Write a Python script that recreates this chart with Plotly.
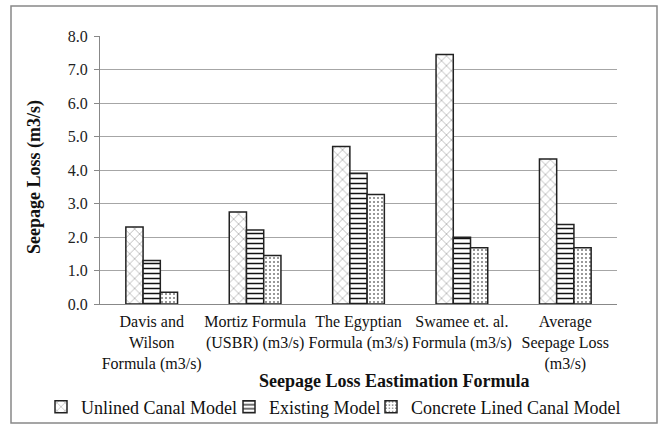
import plotly.graph_objects as go

categories = [
    "Davis and<br>Wilson<br>Formula (m3/s)",
    "Mortiz Formula<br>(USBR) (m3/s)",
    "The Egyptian<br>Formula (m3/s)",
    "Swamee et. al.<br>Formula (m3/s)",
    "Average<br>Seepage Loss<br>(m3/s)",
]
unlined = [2.3, 2.75, 4.7, 7.45, 4.33]
existing = [1.3, 2.21, 3.9, 1.99, 2.37]
concrete = [0.35, 1.45, 3.27, 1.68, 1.68]
series_names = ["Unlined Canal Model", "Existing Model", "Concrete Lined Canal Model"]
y_ticks = [0, 1, 2, 3, 4, 5, 6, 7, 8]
y_tick_text = ["0.0", "1.0", "2.0", "3.0", "4.0", "5.0", "6.0", "7.0", "8.0"]

W, H = 659, 425
L, R, T, B = 100, 617, 36, 304
FONT = "Liberation Serif"
patterns = [
    dict(shape="x", fgcolor="#8a8a8a", bgcolor="white", size=7, solidity=0.15, fillmode="replace"),
    dict(shape="-", fgcolor="#111111", bgcolor="white", size=5, solidity=0.3, fillmode="replace"),
    dict(shape=".", fgcolor="#777777", bgcolor="white", size=4, solidity=0.2, fillmode="replace"),
]
legend_ids = ["legend", "legend2", "legend3"]
legend_text_x = [81, 269, 411]  # pixel x where each legend label starts

fig = go.Figure()
for name, vals, pat, lg in zip(series_names, [unlined, existing, concrete], patterns, legend_ids):
    fig.add_trace(go.Bar(
        x=categories, y=vals, name=name, legend=lg,
        marker=dict(color="white", pattern=pat, line=dict(color="#222222", width=1.5)),
    ))

legend_layout = {}
for lg, tx in zip(legend_ids, legend_text_x):
    legend_layout[lg] = dict(
        xref="container", yref="container",
        x=(tx - 40) / W, xanchor="left",
        y=1 - 407 / H, yanchor="middle",
        bgcolor="rgba(0,0,0,0)", borderwidth=0,
        font=dict(family=FONT, size=18, color="#111111"),
        itemwidth=30,
    )

fig.update_layout(
    width=W, height=H,
    margin=dict(l=L, r=W - R, t=T, b=H - B, autoexpand=False),
    paper_bgcolor="white", plot_bgcolor="white",
    barmode="group", bargap=0.5, bargroupgap=0,
    font=dict(family=FONT, size=16, color="#111111"),
    showlegend=True,
    xaxis=dict(
        showline=True, linecolor="#888888", linewidth=1, ticks="", automargin=False,
        ticklabelstandoff=3,
        tickfont=dict(family=FONT, size=16, color="#111111"),
    ),
    yaxis=dict(
        range=[0, 8], tickvals=y_ticks, ticktext=y_tick_text, automargin=False,
        showgrid=True, gridcolor="#a6a6a6", gridwidth=1.3,
        showline=True, linecolor="#888888", linewidth=1,
        ticks="outside", ticklen=5, tickcolor="#888888",
        ticklabelstandoff=3,
        tickfont=dict(family=FONT, size=16, color="#222222"),
        zeroline=False,
    ),
    annotations=[
        dict(text="<b>Seepage Loss Eastimation Formula</b>", xref="paper", yref="paper",
             x=(394 - L) / (R - L), y=(B - 381) / (B - T), xanchor="center", yanchor="middle",
             showarrow=False, font=dict(family=FONT, size=18, color="#111111")),
        dict(text="<b>Seepage Loss (m3/s)</b>", xref="paper", yref="paper", textangle=-90,
             x=(34 - L) / (R - L), y=(B - 177) / (B - T), xanchor="center", yanchor="middle",
             showarrow=False, font=dict(family=FONT, size=18, color="#111111")),
    ],
    shapes=[dict(type="rect", xref="paper", yref="paper",
                 x0=(11 - L) / (R - L), x1=(657 - L) / (R - L),
                 y0=(B - 423) / (B - T), y1=(B - 6) / (B - T),
                 line=dict(color="#888888", width=1.5), fillcolor="rgba(0,0,0,0)", layer="below")],
    **legend_layout,
)

fig.write_html("out.html", config={"displayModeBar": False},
               post_script="document.body.style.margin='0';")
